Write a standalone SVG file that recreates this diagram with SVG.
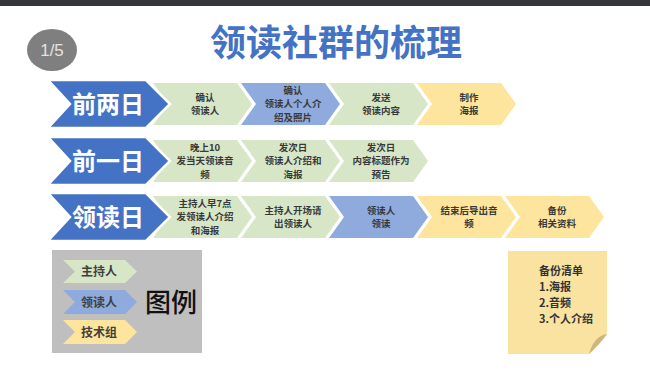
<svg xmlns="http://www.w3.org/2000/svg" width="650" height="371" viewBox="0 0 650 371">
<defs>
<style>
.cjk{font-family:"Noto Sans CJK SC","Liberation Sans",sans-serif;}
.big{fill:#4472c4;stroke:#ffffff;stroke-width:2.5;}
.bigt{fill:#ffffff;font-size:24px;font-weight:700;text-anchor:middle;}
.g{fill:#d6e6c6;}
.b{fill:#8faadc;}
.y{fill:#fde59d;}
.st{fill:#3a3a3a;font-size:9.5px;font-weight:700;text-anchor:middle;}
.lt{fill:#404040;font-size:12px;font-weight:700;text-anchor:middle;}
</style>
</defs>
<rect x="0" y="0" width="650" height="371" fill="#ffffff"/>
<rect x="0" y="0" width="650" height="6" fill="#35373a"/>

<g id="page-number">
<ellipse cx="52" cy="50" rx="25" ry="21" fill="#7f7f7f"/>
<text x="52" y="56" font-family="Liberation Sans,sans-serif" font-size="17" fill="#e2e2e2" text-anchor="middle">1/5</text>
</g>

<g id="title">
<text x="336" y="56" class="cjk" font-size="36" font-weight="700" fill="#4472c4" text-anchor="middle">领读社群的梳理</text>
</g>

<!-- Row 1 small chevrons -->
<g id="r1c1"><path class="g" d="M153,83 H237 L252,104 L237,125 H153 L168,104 Z"/>
<text class="cjk st"><tspan x="205" y="100.5">确认</tspan><tspan x="205" y="114.3">领读人</tspan></text></g>
<g id="r1c2"><path class="b" d="M241,83 H325 L340,104 L325,125 H241 L256,104 Z"/>
<text class="cjk st"><tspan x="293" y="93.6">确认</tspan><tspan x="293" y="107.4">领读人个人介</tspan><tspan x="293" y="121.2">绍及照片</tspan></text></g>
<g id="r1c3"><path class="g" d="M329,83 H413 L428,104 L413,125 H329 L344,104 Z"/>
<text class="cjk st"><tspan x="381" y="100.5">发送</tspan><tspan x="381" y="114.3">领读内容</tspan></text></g>
<g id="r1c4"><path class="y" d="M417,83 H501 L516,104 L501,125 H417 L432,104 Z"/>
<text class="cjk st"><tspan x="469" y="100.5">制作</tspan><tspan x="469" y="114.3">海报</tspan></text></g>

<!-- Row 2 small chevrons -->
<g id="r2c1"><path class="g" d="M153,140 H237 L252,161 L237,182 H153 L168,161 Z"/>
<text class="cjk st"><tspan x="205" y="150.6">晚上10</tspan><tspan x="205" y="164.4">发当天领读音</tspan><tspan x="205" y="178.2">频</tspan></text></g>
<g id="r2c2"><path class="g" d="M241,140 H325 L340,161 L325,182 H241 L256,161 Z"/>
<text class="cjk st"><tspan x="293" y="150.6">发次日</tspan><tspan x="293" y="164.4">领读人介绍和</tspan><tspan x="293" y="178.2">海报</tspan></text></g>
<g id="r2c3"><path class="g" d="M329,140 H413 L428,161 L413,182 H329 L344,161 Z"/>
<text class="cjk st"><tspan x="381" y="150.6">发次日</tspan><tspan x="381" y="164.4">内容标题作为</tspan><tspan x="381" y="178.2">预告</tspan></text></g>

<!-- Row 3 small chevrons -->
<g id="r3c1"><path class="g" d="M153,196 H237 L252,217 L237,238 H153 L168,217 Z"/>
<text class="cjk st"><tspan x="205" y="206.6">主持人早7点</tspan><tspan x="205" y="220.4">发领读人介绍</tspan><tspan x="205" y="234.2">和海报</tspan></text></g>
<g id="r3c2"><path class="g" d="M241,196 H325 L340,217 L325,238 H241 L256,217 Z"/>
<text class="cjk st"><tspan x="293" y="213.5">主持人开场请</tspan><tspan x="293" y="227.3">出领读人</tspan></text></g>
<g id="r3c3"><path class="b" d="M329,196 H413 L428,217 L413,238 H329 L344,217 Z"/>
<text class="cjk st"><tspan x="381" y="213.5">领读人</tspan><tspan x="381" y="227.3">领读</tspan></text></g>
<g id="r3c4"><path class="y" d="M417,196 H501 L516,217 L501,238 H417 L432,217 Z"/>
<text class="cjk st"><tspan x="469" y="213.5">结束后导出音</tspan><tspan x="469" y="227.3">频</tspan></text></g>
<g id="r3c5"><path class="y" d="M505,196 H589 L604,217 L589,238 H505 L520,217 Z"/>
<text class="cjk st"><tspan x="557" y="213.5">备份</tspan><tspan x="557" y="227.3">相关资料</tspan></text></g>

<!-- Big row headers -->
<g id="row1-head"><path class="big" d="M48,80 H146 L170,104 L146,128 H48 L70,104 Z"/>
<text class="cjk bigt" x="108" y="113">前两日</text></g>
<g id="row2-head"><path class="big" d="M48,137 H146 L170,161 L146,185 H48 L70,161 Z"/>
<text class="cjk bigt" x="108" y="170">前一日</text></g>
<g id="row3-head"><path class="big" d="M48,193 H146 L170,217 L146,241 H48 L70,217 Z"/>
<text class="cjk bigt" x="108" y="226">领读日</text></g>

<!-- Legend -->
<g id="legend">
<rect x="52" y="250" width="150" height="103" fill="#bfbfbf"/>
<path class="g" d="M63,260 H125 L137,271.5 L125,283 H63 L75,271.5 Z"/>
<text class="cjk lt" x="99" y="276">主持人</text>
<path class="b" d="M63,290 H125 L137,302 L125,314 H63 L75,302 Z"/>
<text class="cjk lt" x="99" y="306.5">领读人</text>
<path class="y" d="M63,320 H125 L137,332 L125,344 H63 L75,332 Z"/>
<text class="cjk lt" x="99" y="336.5">技术组</text>
<text class="cjk" x="171" y="312" font-size="26" font-weight="500" fill="#111111" text-anchor="middle">图例</text>
</g>

<!-- Backup note -->
<g id="backup-note">
<path d="M508,251 H607 V334 Q598,346 589,354 H508 Z" fill="#fae3a0"/>
<path d="M607,334 Q600,338 589,354 Q596,341 607,334 Z" fill="#d7c08a"/>
<path d="M607,334 Q594,336 589,354 Q600,344 607,334 Z" fill="#cdb57e"/>
<text class="cjk" font-size="11" font-weight="700" fill="#333333"><tspan x="539" y="275">备份清单</tspan><tspan x="539" y="291">1.海报</tspan><tspan x="539" y="307">2.音频</tspan><tspan x="539" y="323">3.个人介绍</tspan></text>
</g>
</svg>
